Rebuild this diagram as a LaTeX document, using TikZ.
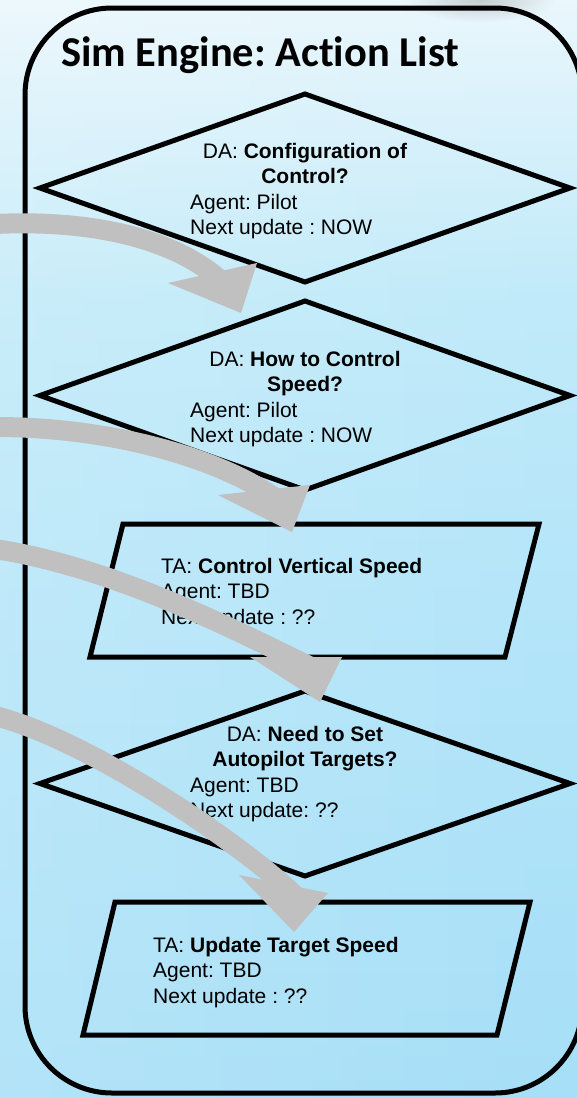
\documentclass[tikz,border=0pt]{standalone}
\usepackage{fontspec}
\setmainfont{Liberation Sans}
\newfontfamily\titlefont[Ligatures=NoCommon]{Carlito}
\usetikzlibrary{fadings}
\frenchspacing

\definecolor{bgA}{RGB}{234,247,252}
\definecolor{bgB}{RGB}{219,242,251}
\definecolor{bgC}{RGB}{192,234,249}
\definecolor{bgD}{RGB}{180,229,249}
\definecolor{bgE}{RGB}{166,223,247}
\definecolor{arrowgray}{RGB}{192,192,192}

% vertical background ramp (path maps onto 25bp..75bp)
\pgfdeclareverticalshading{panelramp}{100bp}{%
  color(0bp)=(bgE); color(25bp)=(bgE); color(47.7bp)=(bgD);
  color(61.3bp)=(bgC); color(70.4bp)=(bgB); color(75bp)=(bgA); color(100bp)=(bgA)}
\tikzfading[name=softblob, inner color=transparent!0, outer color=transparent!100]

\begin{document}
\begin{tikzpicture}[x=1pt,y=-1pt,
  frame/.style={draw=black, line width=5pt, rounded corners=87pt},
  shapeline/.style={draw=black, line width=5pt, line join=miter},
  lbl/.style={inner sep=0pt, font=\fontsize{21}{25}\selectfont},
  shaft/.style={draw=arrowgray, line width=20pt, line cap=butt},
  head/.style={fill=arrowgray}]

\useasboundingbox (0,0) rectangle (577,1098);
\clip (0,0) rectangle (577,1098);

% background
\shade[shading=panelramp] (0,0) rectangle (577,1098);
\fill[white, opacity=0.15, path fading=east] (0,0) rectangle (577,1098);
\fill[black!40, opacity=0.45, path fading=softblob] (480,0) ellipse [x radius=75, y radius=22];

% panel
\draw[frame] (25,8) rectangle (582,1093);
\node[anchor=base west, inner sep=0pt,
      font=\titlefont\bfseries\fontsize{42.5}{50}\selectfont] (title) at (61,66)
  {Sim Engine: Action List};

% action shapes
\coordinate (d1n) at (305,94);  \coordinate (d1e) at (570,188);
\coordinate (d1s) at (305,282); \coordinate (d1w) at (40,188);
\draw[shapeline] (d1w) -- (d1n) -- (d1e) -- (d1s) -- cycle;

\coordinate (d2n) at (305,301); \coordinate (d2e) at (570,395.5);
\coordinate (d2s) at (305,490); \coordinate (d2w) at (40,395.5);
\draw[shapeline] (d2w) -- (d2n) -- (d2e) -- (d2s) -- cycle;

\coordinate (p1a) at (123,524); \coordinate (p1b) at (539,524);
\coordinate (p1c) at (505,657); \coordinate (p1d) at (90,657);
\draw[shapeline] (p1a) -- (p1b) -- (p1c) -- (p1d) -- cycle;

\coordinate (d3n) at (305,691); \coordinate (d3e) at (570,783.5);
\coordinate (d3s) at (305,876); \coordinate (d3w) at (40,783.5);
\draw[shapeline] (d3w) -- (d3n) -- (d3e) -- (d3s) -- cycle;

\coordinate (p2a) at (115,902); \coordinate (p2b) at (530,902);
\coordinate (p2c) at (497,1035); \coordinate (p2d) at (83,1035);
\draw[shapeline] (p2a) -- (p2b) -- (p2c) -- (p2d) -- cycle;

% labels
\node[lbl, anchor=base] (d1h1) at (305,158) {DA: \textbf{Configuration of}};
\node[lbl, anchor=base] (d1h2) at (305,183.5) {\textbf{Control?}};
\node[lbl, anchor=base west] (d1ag) at (190,209) {Agent: Pilot};
\node[lbl, anchor=base west] (d1nx) at (190,234.5) {Next update : NOW};

\node[lbl, anchor=base] (d2h1) at (305,366) {DA: \textbf{How to Control}};
\node[lbl, anchor=base] (d2h2) at (305,391.5) {\textbf{Speed?}};
\node[lbl, anchor=base west] (d2ag) at (190,417) {Agent: Pilot};
\node[lbl, anchor=base west] (d2nx) at (190,442.5) {Next update : NOW};

\node[lbl, anchor=base west] (p1h) at (161,573) {TA: \textbf{Control Vertical Speed}};
\node[lbl, anchor=base west] (p1ag) at (161,598.5) {Agent: TBD};
\node[lbl, anchor=base west] (p1nx) at (161,624) {Next update : ??};

\node[lbl, anchor=base] (d3h1) at (305,741) {DA: \textbf{Need to Set}};
\node[lbl, anchor=base] (d3h2) at (305,766.5) {\textbf{Autopilot Targets?}};
\node[lbl, anchor=base west] (d3ag) at (190,792) {Agent: TBD};
\node[lbl, anchor=base west] (d3nx) at (190,817.5) {Next update: ??};

\node[lbl, anchor=base west] (p2h) at (153,952) {TA: \textbf{Update Target Speed}};
\node[lbl, anchor=base west] (p2ag) at (153,977.5) {Agent: TBD};
\node[lbl, anchor=base west] (p2nx) at (153,1003) {Next update : ??};

% incoming curved arrows
\coordinate (a1s) at (-5,224);   \coordinate (a1e) at (220.6,280.4);
\coordinate (a1l) at (168,283);  \coordinate (a1r) at (257,263); \coordinate (a1t) at (241,313);
\draw[shaft] (a1s) .. controls (100,219) and (178,242) .. (a1e);
\fill[head] (a1l) -- (a1t) -- (a1r) -- cycle;

\coordinate (a2s) at (-5,427);   \coordinate (a2e) at (275.3,498.1);
\coordinate (a2l) at (218,495);  \coordinate (a2r) at (310,485); \coordinate (a2t) at (292,532);
\draw[shaft] (a2s) .. controls (120,427) and (225,462) .. (a2e);
\fill[head] (a2l) -- (a2t) -- (a2r) -- cycle;

\coordinate (a3s) at (-5,549);   \coordinate (a3e) at (309.2,666);
\coordinate (a3l) at (250,657);  \coordinate (a3r) at (342,657); \coordinate (a3t) at (320,702);
\draw[shaft] (a3s) .. controls (120,568) and (250,638) .. (a3e);
\fill[head] (a3l) -- (a3t) -- (a3r) -- cycle;

\coordinate (a4s) at (-5,716);   \coordinate (a4e) at (296.2,896.7);
\coordinate (a4l) at (239,875);  \coordinate (a4r) at (328,893); \coordinate (a4t) at (294,932);
\draw[shaft] (a4s) .. controls (90,740) and (245,846) .. (a4e);
\fill[head] (a4l) -- (a4t) -- (a4r) -- cycle;

\end{tikzpicture}
\end{document}
